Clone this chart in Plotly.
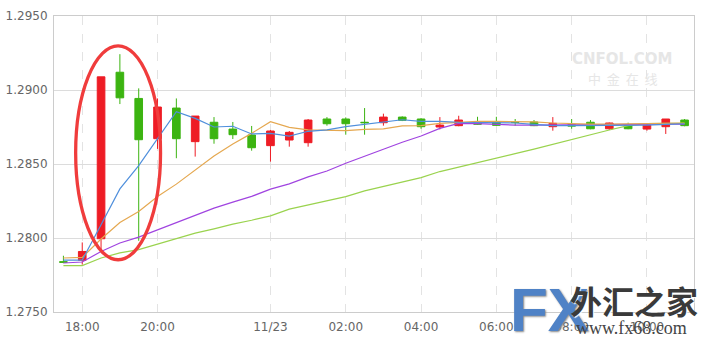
import plotly.graph_objects as go

# ---- data ----
times = ["17:30", "18:00", "18:30", "19:00", "19:30", "20:00", "20:30", "21:00", "21:30",
         "22:00", "23:00", "00:00", "00:30", "01:00", "01:30", "02:00", "02:30", "03:00",
         "03:30", "04:00", "04:30", "05:00", "05:30", "06:00", "06:30", "07:00", "07:30",
         "08:00", "08:30", "09:00", "09:30", "10:00", "10:30", "11:00"]

opens = [1.27840, 1.27849, 1.27995, 1.29120, 1.28943, 1.28671, 1.28878, 1.28651, 1.28782,
         1.28736, 1.28696, 1.28624, 1.28662, 1.28644, 1.28804, 1.28804, 1.28782, 1.28779,
         1.28817, 1.28804, 1.28750, 1.28759, 1.28786, 1.28786, 1.28782, 1.28784, 1.28752,
         1.28765, 1.28782, 1.28738, 1.28765, 1.28736, 1.28752, 1.28797]
highs = [1.27880, 1.27970, 1.29089, 1.29242, 1.29011, 1.28943, 1.28943, 1.28824, 1.28817,
         1.28784, 1.28757, 1.28730, 1.28723, 1.28804, 1.28817, 1.28815, 1.28878, 1.28840,
         1.28822, 1.28810, 1.28817, 1.28826, 1.28819, 1.28819, 1.28804, 1.28797, 1.28817,
         1.28804, 1.28797, 1.28780, 1.28779, 1.28770, 1.28804, 1.28804]
lows = [1.27830, 1.27820, 1.27921, 1.28905, 1.27981, 1.28602, 1.28539, 1.28550, 1.28637,
        1.28669, 1.28590, 1.28516, 1.28617, 1.28617, 1.28759, 1.28698, 1.28698, 1.28759,
        1.28790, 1.28738, 1.28734, 1.28755, 1.28765, 1.28758, 1.28759, 1.28756, 1.28725,
        1.28738, 1.28735, 1.28730, 1.28735, 1.28725, 1.28703, 1.28755]
closes = [1.27836, 1.27909, 1.29089, 1.28947, 1.28664, 1.28885, 1.28671, 1.28824, 1.28671,
          1.28698, 1.28610, 1.28723, 1.28714, 1.28797, 1.28772, 1.28772, 1.28779, 1.28817,
          1.28795, 1.28752, 1.28763, 1.28797, 1.28768, 1.28761, 1.28780, 1.28759, 1.28775,
          1.28756, 1.28738, 1.28777, 1.28738, 1.28763, 1.28804, 1.28759]

ma_blue = [1.27851, 1.27851, 1.28089, 1.28332, 1.28489, 1.28674, 1.28853, 1.28808, 1.28750,
           1.28755, 1.28703, 1.28707, 1.28689, 1.28721, 1.28730, 1.28752, 1.28768, 1.28788,
           1.28799, 1.28788, 1.28788, 1.28782, 1.28782, 1.28782, 1.28777, 1.28768, 1.28759,
           1.28759, 1.28759, 1.28759, 1.28761, 1.28763, 1.28768, 1.28772]
ma_orange = [1.27865, 1.27869, 1.27993, 1.28105, 1.28179, 1.28280, 1.28364, 1.28460, 1.28554,
             1.28635, 1.28707, 1.28786, 1.28748, 1.28730, 1.28730, 1.28725, 1.28734, 1.28738,
             1.28757, 1.28759, 1.28775, 1.28784, 1.28788, 1.28788, 1.28786, 1.28784, 1.28777,
             1.28772, 1.28770, 1.28770, 1.28772, 1.28775, 1.28777, 1.28777]
ma_purple = [1.27831, 1.27838, 1.27909, 1.27966, 1.28006, 1.28056, 1.28105, 1.28157, 1.28202,
             1.28242, 1.28281, 1.28330, 1.28366, 1.28413, 1.28453, 1.28505, 1.28550, 1.28600,
             1.28647, 1.28689, 1.28741, 1.28775, 1.28773, 1.28767, 1.28763, 1.28763, 1.28763,
             1.28765, 1.28765, 1.28768, 1.28768, 1.28770, 1.28770, 1.28770]
ma_green = [1.27813, 1.27813, 1.27865, 1.27899, 1.27921, 1.27959, 1.27993, 1.28033, 1.28062,
            1.28094, 1.28120, 1.28150, 1.28195, 1.28224, 1.28251, 1.28280, 1.28318, 1.28347,
            1.28381, 1.28408, 1.28449, 1.28478, 1.28511, 1.28539, 1.28570, 1.28600, 1.28633,
            1.28662, 1.28696, 1.28730, 1.28759, 1.28773, 1.28775, 1.28775]

tick_cats = ["18:00", "20:00", "00:00", "02:00", "04:00", "06:00", "08:00", "10:00"]
tick_text = ["18:00", "20:00", "11/23", "02:00", "04:00", "06:00", "08:00", "10:00"]
y_ticks = [1.2750, 1.2800, 1.2850, 1.2900, 1.2950]
y_tick_text = ["1.2750", "1.2800", "1.2850", "1.2900", "1.2950"]

RED = "#ee1c25"
GREEN = "#3cb411"

fig = go.Figure()
fig.add_trace(go.Candlestick(
    x=times, open=opens, high=highs, low=lows, close=closes,
    increasing=dict(line=dict(color=RED, width=1), fillcolor=RED),
    decreasing=dict(line=dict(color=GREEN, width=1), fillcolor=GREEN),
    whiskerwidth=0, showlegend=False, hoverinfo="skip",
))
for vals, col in [(ma_green, "#9ad34e"), (ma_purple, "#a044e0"),
                  (ma_orange, "#e5a850"), (ma_blue, "#4f8fdc")]:
    fig.add_trace(go.Scatter(x=times, y=vals, mode="lines",
                             line=dict(color=col, width=1.2),
                             showlegend=False, hoverinfo="skip"))

fig.add_shape(type="circle", xref="x", yref="y",
              x0=0.65, x1=5.16, y0=1.27853, y1=1.29298,
              line=dict(color="#f03c3c", width=3.3))

# watermarks
fig.add_annotation(xref="paper", yref="paper", x=0.888, y=0.855, xanchor="center", yanchor="middle",
                   text="<b>CNFOL.COM</b>", showarrow=False,
                   font=dict(family="DejaVu Sans", size=15, color="#e6e6e6"))
fig.add_annotation(xref="paper", yref="paper", x=0.888, y=0.79, xanchor="center", yanchor="middle",
                   text="中  金  在  线", showarrow=False,
                   font=dict(family="Noto Sans CJK SC", size=13, color="#e6e6e6"))

fig.add_annotation(xref="paper", yref="paper", x=(508 - 53) / 642, y=(312.3 - 310) / 296.6,
                   xanchor="left", yanchor="middle", text="<b>FX</b>", showarrow=False,
                   font=dict(family="Liberation Sans", size=62, color="#4f82c6",
                             shadow="1px 1px 2px #888"))
fig.add_annotation(xref="paper", yref="paper", x=(569 - 53) / 642, y=(312.3 - 300) / 296.6,
                   xanchor="left", yanchor="middle", text="<b>外汇之家</b>", showarrow=False,
                   font=dict(family="Noto Sans CJK SC", size=32, color="#3a3a3a",
                             shadow="1px 1px 1px #ffffff"))
fig.add_annotation(xref="paper", yref="paper", x=(575 - 53) / 642, y=(312.3 - 328) / 296.6,
                   xanchor="left", yanchor="middle", text="www.fx68.com", showarrow=False,
                   font=dict(family="Liberation Serif", size=18, color="#444444"))

fig.update_layout(
    width=701, height=340,
    margin=dict(l=53, r=6, t=16, b=28),
    paper_bgcolor="white", plot_bgcolor="white",
    boxgap=0.42,
    font=dict(family="DejaVu Sans", size=12, color="#666666"),
    xaxis=dict(type="category", categoryorder="array", categoryarray=times,
               range=[-0.5, len(times) - 0.5],
               tickmode="array", tickvals=tick_cats, ticktext=tick_text,
               showgrid=True, gridcolor="#e3e3e3", griddash="dash", gridwidth=1,
               showline=True, linecolor="#cccccc", linewidth=1, mirror=True,
               ticks="outside", ticklen=4, tickcolor="rgba(0,0,0,0)",
               rangeslider=dict(visible=False), fixedrange=True),
    yaxis=dict(range=[1.2750, 1.2950], tickmode="array", tickvals=y_ticks, ticktext=y_tick_text,
               showgrid=True, gridcolor="#dcdcdc", gridwidth=1,
               showline=True, linecolor="#cccccc", linewidth=1, mirror=True,
               ticks="outside", ticklen=3, tickcolor="rgba(0,0,0,0)",
               zeroline=False, fixedrange=True),
)

fig.write_html("out.html")
